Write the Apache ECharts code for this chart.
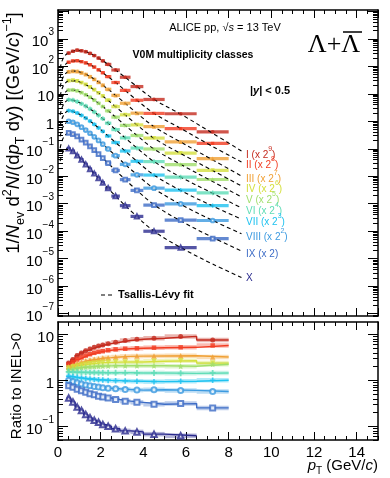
<!DOCTYPE html>
<html>
<head>
<meta charset="utf-8">
<script src="https://cdn.jsdelivr.net/npm/echarts@6.0.0/dist/echarts.min.js"></script>
<style>
html, body { margin: 0; padding: 0; background: #fff; }
#main { width: 390px; height: 478px; }
</style>
</head>
<body>
<div id="main"></div>
<script>
// pT binning (GeV/c)
var pTEdges = [0.4, 0.6, 0.8, 1.0, 1.2, 1.4, 1.6, 1.8, 2.0, 2.2, 2.5, 2.9, 3.4, 4.0, 5.0, 6.5, 8.0];
var pTCenters = [0.5, 0.7, 0.9, 1.1, 1.3, 1.5, 1.7, 1.9, 2.1, 2.35, 2.7, 3.15, 3.7, 4.5, 5.75, 7.25];

var classNames = ['I', 'II', 'III', 'IV', 'V', 'VI', 'VII', 'VIII', 'IX', 'X'];
var classPow2 = [9, 8, 7, 6, 5, 4, 3, 2, 1, 0];
var classColors = ['#c42a1e', '#f23c22', '#f0a035', '#d4e03e', '#a0df6c', '#5edcb6', '#1ec2f0', '#3c9ae0', '#3d6cc6', '#2a2a8e'];

// 1/Nev d2N/(dpT dy), not scaled
var specI = [0.583, 0.677, 0.742, 0.706, 0.651, 0.566, 0.473, 0.383, 0.304, 0.225, 0.141, 0.0767, 0.0351, 0.0119, 0.0036, 0.000788];
var specII = [0.539, 0.600, 0.613, 0.567, 0.511, 0.437, 0.359, 0.286, 0.224, 0.162, 0.0987, 0.0509, 0.0223, 0.0074, 0.00208, 0.000599];
var specIII = [0.490, 0.516, 0.505, 0.450, 0.392, 0.325, 0.259, 0.204, 0.159, 0.112, 0.0672, 0.0347, 0.0151, 0.00489, 0.00137, 0.000336];
var specIV = [0.453, 0.468, 0.441, 0.387, 0.329, 0.269, 0.212, 0.164, 0.126, 0.0882, 0.0521, 0.0263, 0.0113, 0.00374, 0.00106, 0.000248];
var specV = [0.421, 0.427, 0.396, 0.340, 0.286, 0.231, 0.181, 0.139, 0.106, 0.0738, 0.0433, 0.0217, 0.00932, 0.0030, 0.000808, 0.000233];
var specVI = [0.372, 0.360, 0.320, 0.266, 0.219, 0.173, 0.134, 0.101, 0.0759, 0.0522, 0.0305, 0.0152, 0.00648, 0.00209, 0.000564, 0.000151];
var specVII = [0.299, 0.283, 0.245, 0.200, 0.160, 0.125, 0.0946, 0.0704, 0.0525, 0.0356, 0.0206, 0.0101, 0.00428, 0.00135, 0.00038, 0.000105];
var specVIII = [0.245, 0.226, 0.189, 0.149, 0.117, 0.0897, 0.0664, 0.049, 0.0359, 0.0241, 0.0137, 0.00662, 0.00275, 0.0009, 0.00024, 0.0000599];
var specIX = [0.186, 0.168, 0.138, 0.106, 0.0814, 0.0602, 0.0437, 0.0311, 0.0224, 0.0148, 0.00798, 0.00368, 0.00149, 0.000435, 0.000124, 0.0000263];
var specX = [0.100, 0.0804, 0.0559, 0.0396, 0.0266, 0.0179, 0.0123, 0.00842, 0.00567, 0.0036, 0.00185, 0.00083, 0.000338, 0.0000972, 0.0000248];

// ratio to INEL>0
var ratI = [2.38, 2.82, 3.45, 3.92, 4.40, 4.80, 5.20, 5.55, 5.85, 6.25, 6.70, 7.30, 7.80, 8.20, 9.00, 7.50];
var ratII = [2.20, 2.50, 2.85, 3.15, 3.45, 3.70, 3.95, 4.15, 4.30, 4.50, 4.70, 4.85, 4.95, 5.10, 5.20, 5.70];
var ratIII = [2.00, 2.15, 2.35, 2.50, 2.65, 2.75, 2.85, 2.95, 3.05, 3.10, 3.20, 3.30, 3.35, 3.37, 3.42, 3.20];
var ratIV = [1.85, 1.95, 2.05, 2.15, 2.22, 2.28, 2.33, 2.38, 2.42, 2.45, 2.48, 2.50, 2.50, 2.58, 2.66, 2.36];
var ratV = [1.72, 1.78, 1.84, 1.89, 1.93, 1.96, 1.99, 2.01, 2.03, 2.05, 2.06, 2.07, 2.07, 2.07, 2.02, 2.22];
var ratVI = [1.52, 1.50, 1.49, 1.48, 1.48, 1.47, 1.47, 1.46, 1.46, 1.45, 1.45, 1.45, 1.44, 1.44, 1.41, 1.44];
var ratVII = [1.22, 1.18, 1.14, 1.11, 1.08, 1.06, 1.04, 1.02, 1.01, 0.99, 0.98, 0.96, 0.95, 0.93, 0.95, 1.00];
var ratVIII = [1.00, 0.94, 0.88, 0.83, 0.79, 0.76, 0.73, 0.71, 0.69, 0.67, 0.65, 0.63, 0.61, 0.62, 0.60, 0.57];
var ratIX = [0.76, 0.70, 0.64, 0.59, 0.55, 0.51, 0.48, 0.45, 0.43, 0.41, 0.38, 0.35, 0.33, 0.30, 0.31, 0.25];
var ratX = [0.41, 0.335, 0.26, 0.22, 0.18, 0.152, 0.135, 0.122, 0.109, 0.10, 0.088, 0.079, 0.075, 0.067, 0.062];

// Tsallis-Levy fit curves
var fitPt = [0.1, 0.2, 0.35, 0.5, 0.8, 1.1, 1.5, 2.0, 2.7, 3.5, 4.5, 5.75, 7.25, 8.6];
var fitI = [0.163, 0.315, 0.49, 0.583, 0.715, 0.706, 0.566, 0.342, 0.141, 0.0465, 0.012, 0.00348, 0.0007, 0.000159];
var fitII = [0.151, 0.291, 0.453, 0.539, 0.606, 0.567, 0.437, 0.252, 0.0987, 0.030, 0.0074, 0.00212, 0.00046, 0.000126];
var fitIII = [0.137, 0.265, 0.412, 0.49, 0.511, 0.45, 0.325, 0.18, 0.0672, 0.0204, 0.00489, 0.00135, 0.0003, 0.000078];
var fitIV = [0.127, 0.245, 0.381, 0.453, 0.454, 0.387, 0.269, 0.144, 0.0521, 0.0153, 0.0037, 0.00103, 0.000246, 0.0000676];
var fitV = [0.118, 0.227, 0.354, 0.421, 0.411, 0.34, 0.231, 0.121, 0.0433, 0.0127, 0.0030, 0.000828, 0.000197, 0.0000538];
var fitVI = [0.104, 0.201, 0.312, 0.372, 0.339, 0.266, 0.173, 0.0876, 0.0305, 0.00884, 0.00209, 0.000572, 0.000146, 0.0000428];
var fitVII = [0.0837, 0.161, 0.251, 0.299, 0.263, 0.2, 0.125, 0.0609, 0.0206, 0.00584, 0.00136, 0.000372, 0.0001, 0.0000335];
var fitVIII = [0.0686, 0.132, 0.206, 0.245, 0.207, 0.149, 0.0897, 0.042, 0.0137, 0.00379, 0.00087, 0.000232, 0.00006, 0.0000198];
var fitIX = [0.052, 0.1, 0.156, 0.186, 0.152, 0.106, 0.0602, 0.0264, 0.00798, 0.00208, 0.00045, 0.000116, 0.000029, 0.00000936];
var fitX = [0.035, 0.066, 0.095, 0.1, 0.0681, 0.0396, 0.0179, 0.0069, 0.00185, 0.000465, 0.0000972, 0.0000248, 0.0000062, 0.00000202];

// axis decades that get a label
var topDecades = [-7, -6, -5, -4, -3, -2, -1, 0, 1, 2, 3];
var ratioDecades = [-1, 0, 1];

var spectra = [specI, specII, specIII, specIV, specV, specVI, specVII, specVIII, specIX, specX];
var ratios = [ratI, ratII, ratIII, ratIV, ratV, ratVI, ratVII, ratVIII, ratIX, ratX];
var fits = [fitI, fitII, fitIII, fitIV, fitV, fitVI, fitVII, fitVIII, fitIX, fitX];

/****************************************************
 *                 layout / styles                  *
 ****************************************************/
var FONT = '"Liberation Sans", Arial, Helvetica, sans-serif';
var TOP_MIN = 8e-8, TOP_MAX = 1.1e4;
var RAT_MIN = 0.05, RAT_MAX = 18.5;
var labelY = [153, 163, 177, 187, 198, 209, 220, 235, 252, 276];

var STAR = 'path://M0,-10L2.9,-4L9.5,-3.1L4.7,1.5L5.9,8.1L0,5L-5.9,8.1L-4.7,1.5L-9.5,-3.1L-2.9,-4Z';
var CROSS = 'path://M-3,-10H3V-3H10V3H3V10H-3V3H-10V-3H-3Z';
var markers = [
    {symbol: 'circle', size: 5},
    {symbol: 'rect', size: 4.5},
    {symbol: 'triangle', size: 5.5},
    {symbol: 'triangle', size: 5.5, rotate: 180},
    {symbol: STAR, size: 6},
    {symbol: CROSS, size: 6},
    {symbol: CROSS, size: 5.5},
    {symbol: 'emptyCircle', size: 5},
    {symbol: 'emptyRect', size: 5},
    {symbol: 'emptyTriangle', size: 5.5}
];

function supLabel(n) {
    if (n === 0) return '{b|1}';
    if (n === 1) return '{b|10}';
    return '{b|10}{s|' + (n < 0 ? '\u2212' + (-n) : n) + '}';
}

// log axis ticks (2..9 x 10^n) on both sides + decade labels
function logAxisItem(decades, min, max) {
    return function (params, api) {
        var els = [];
        var n0 = Math.floor(Math.log10(min)), n1 = Math.ceil(Math.log10(max));
        for (var n = n0; n <= n1; n++) {
            for (var k = 1; k < 10; k++) {
                var v = k * Math.pow(10, n);
                if (v < min || v > max) continue;
                var pl = api.coord([0, v]), pr = api.coord([15, v]);
                var len = k === 1 ? 10 : 5;
                var y = Math.round(pl[1]) + 0.5;
                els.push({type: 'line', shape: {x1: pl[0], y1: y, x2: pl[0] + len, y2: y}, style: {stroke: '#000', lineWidth: 1}});
                els.push({type: 'line', shape: {x1: pr[0], y1: y, x2: pr[0] - len, y2: y}, style: {stroke: '#000', lineWidth: 1}});
            }
        }
        decades.forEach(function (n) {
            var p = api.coord([0, Math.pow(10, n)]);
            els.push({
                type: 'text', x: p[0] - 4, y: p[1],
                style: {
                    text: supLabel(n), align: 'right', verticalAlign: 'middle', fill: '#000',
                    rich: {
                        b: {fontSize: 15, fontFamily: FONT, lineHeight: 22, verticalAlign: 'bottom'},
                        s: {fontSize: 10, fontFamily: FONT, lineHeight: 11, verticalAlign: 'top'}
                    }
                }
            });
        });
        return {type: 'group', children: els};
    };
}

// systematic boxes spanning the bin width
function boxItem(h, color, op) {
    return function (params, api) {
        var a = api.coord([api.value(0), api.value(2)]);
        var b = api.coord([api.value(1), api.value(2)]);
        return {
            type: 'rect',
            shape: {x: a[0], y: a[1] - h / 2, width: b[0] - a[0], height: h},
            style: {fill: color, opacity: op}
        };
    };
}

function xAxisPair(grid, pos, labels) {
    return [{
        gridIndex: grid, type: 'value', min: 0, max: 15, interval: 2, position: pos,
        axisLine: {show: true, onZero: false, lineStyle: {color: '#000', width: 1.5}},
        axisTick: {show: true, inside: true, length: 8, lineStyle: {color: '#000', width: 1}},
        axisLabel: {show: labels, color: '#000', fontSize: 15, fontFamily: FONT, margin: 5, showMaxLabel: false},
        splitLine: {show: false}
    }, {
        gridIndex: grid, type: 'value', min: 0, max: 15, interval: 0.5, position: pos,
        axisLine: {show: false},
        axisTick: {show: true, inside: true, length: 4, lineStyle: {color: '#000', width: 1}},
        axisLabel: {show: false},
        splitLine: {show: false}
    }];
}

function yAxisLog(grid, pos, min, max) {
    return {
        gridIndex: grid, type: 'log', min: min, max: max, position: pos,
        axisLine: {show: true, onZero: false, lineStyle: {color: '#000', width: 1.5}},
        axisTick: {show: false}, axisLabel: {show: false}, splitLine: {show: false}
    };
}

var xAxes = [].concat(xAxisPair(0, 'bottom', false), xAxisPair(0, 'top', false),
    xAxisPair(1, 'bottom', true), xAxisPair(1, 'top', false));
var yAxes = [yAxisLog(0, 'left', TOP_MIN, TOP_MAX), yAxisLog(0, 'right', TOP_MIN, TOP_MAX),
    yAxisLog(1, 'left', RAT_MIN, RAT_MAX), yAxisLog(1, 'right', RAT_MIN, RAT_MAX)];

var series = [];
classNames.forEach(function (name, c) {
    var f = Math.pow(2, classPow2[c]);
    var col = classColors[c];
    var spec = spectra[c], rat = ratios[c], fit = fits[c], mk = markers[c];

    series.push({
        type: 'custom', xAxisIndex: 0, yAxisIndex: 0, silent: true, z: 3,
        renderItem: boxItem(3.2, col, 0.8), encode: {x: [0, 1], y: 2},
        data: spec.map(function (v, i) { return [pTEdges[i], pTEdges[i + 1], v * f]; })
    });
    series.push({
        type: 'line', xAxisIndex: 0, yAxisIndex: 0, silent: true, z: 4, smooth: 0.35,
        showSymbol: false, lineStyle: {color: '#000', width: 1.1, type: [4, 3]},
        data: fitPt.map(function (p, i) { return [p, fit[i] * f]; })
    });
    series.push({
        type: 'scatter', xAxisIndex: 0, yAxisIndex: 0, silent: true, z: 5,
        symbol: mk.symbol, symbolSize: mk.size - 1.3, symbolRotate: mk.rotate || 0,
        itemStyle: {color: col, borderWidth: 0.8},
        data: spec.map(function (v, i) { return [pTCenters[i], v * f]; })
    });

    // ratio panel
    var step = [];
    rat.forEach(function (v, i) { step.push([pTEdges[i], v], [pTEdges[i + 1], v]); });
    series.push({
        type: 'custom', xAxisIndex: 4, yAxisIndex: 2, silent: true, z: 3,
        renderItem: boxItem(4.5, col, 0.35), encode: {x: [0, 1], y: 2},
        data: rat.map(function (v, i) { return [pTEdges[i], pTEdges[i + 1], v]; })
    });
    series.push({
        type: 'line', xAxisIndex: 4, yAxisIndex: 2, silent: true, z: 4,
        showSymbol: false, lineStyle: {color: col, width: 1.4}, data: step
    });
    series.push({
        type: 'scatter', xAxisIndex: 4, yAxisIndex: 2, silent: true, z: 5,
        symbol: mk.symbol, symbolSize: mk.size, symbolRotate: mk.rotate || 0,
        itemStyle: {color: col, borderWidth: 1.1},
        data: rat.map(function (v, i) { return [pTCenters[i], v]; })
    });
});

series.push({
    type: 'custom', xAxisIndex: 0, yAxisIndex: 0, silent: true, clip: false, z: 10,
    renderItem: logAxisItem(topDecades, TOP_MIN, TOP_MAX), encode: {x: 0, y: 1}, data: [[1, 1]]
});
series.push({
    type: 'custom', xAxisIndex: 4, yAxisIndex: 2, silent: true, clip: false, z: 10,
    renderItem: logAxisItem(ratioDecades, RAT_MIN, RAT_MAX), encode: {x: 0, y: 1}, data: [[1, 1]]
});

/****************************************************
 *                    texts                         *
 ****************************************************/
var graphics = [];
var titleRich = {
    a: {fontSize: 18.5, fontFamily: FONT, lineHeight: 26, verticalAlign: 'middle'},
    i: {fontSize: 18.5, fontFamily: FONT, fontStyle: 'italic', lineHeight: 26, verticalAlign: 'middle'},
    sub: {fontSize: 12.5, fontFamily: FONT, lineHeight: 14, verticalAlign: 'bottom'},
    sup: {fontSize: 12.5, fontFamily: FONT, lineHeight: 12, verticalAlign: 'top'}
};
graphics.push({
    type: 'text', x: 14, y: 133, rotation: Math.PI / 2,
    style: {
        text: '{a|1/}{i|N}{sub|ev}{a| d}{sup|2}{i|N}{a|/(d}{i|p}{sub|T}{a| dy) [(GeV/}{i|c}{a|)}{sup|\u22121}{a|]}',
        align: 'center', verticalAlign: 'middle', fill: '#000', rich: titleRich
    }
});
graphics.push({
    type: 'text', x: 17, y: 386, rotation: Math.PI / 2,
    style: {text: 'Ratio to INEL>0', font: '15px ' + FONT, align: 'center', verticalAlign: 'middle', fill: '#000'}
});
graphics.push({
    type: 'text', x: 378, y: 466,
    style: {
        text: '{i|p}{sub|T}{a| (GeV/}{i|c}{a|)}', align: 'right', verticalAlign: 'middle', fill: '#000',
        rich: {
            a: {fontSize: 15, fontFamily: FONT, lineHeight: 20},
            i: {fontSize: 15, fontFamily: FONT, fontStyle: 'italic', lineHeight: 20},
            sub: {fontSize: 10, fontFamily: FONT, lineHeight: 10, verticalAlign: 'bottom'}
        }
    }
});
graphics.push({
    type: 'text', x: 225, y: 28,
    style: {
        text: '{a|ALICE pp, \u221A}{i|s}{a| = 13 TeV}', align: 'center', verticalAlign: 'middle', fill: '#000',
        rich: {
            a: {fontSize: 11, fontFamily: FONT},
            i: {fontSize: 11, fontFamily: FONT, fontStyle: 'italic'}
        }
    }
});
graphics.push({
    type: 'text', x: 334, y: 45,
    style: {text: '\u039B+\u039B', font: '26px "Liberation Serif", "Times New Roman", serif', align: 'center', verticalAlign: 'middle', fill: '#000'}
});
graphics.push({type: 'line', shape: {x1: 343, y1: 32, x2: 362, y2: 32}, style: {stroke: '#000', lineWidth: 1.5}});
graphics.push({
    type: 'text', x: 193, y: 55,
    style: {text: 'V0M multiplicity classes', font: 'bold 10.5px ' + FONT, align: 'center', verticalAlign: 'middle', fill: '#000'}
});
graphics.push({
    type: 'text', x: 250, y: 91,
    style: {
        text: '{a||}{i|y}{a|| < 0.5}', align: 'left', verticalAlign: 'middle', fill: '#000',
        rich: {
            a: {fontSize: 11, fontFamily: FONT, fontWeight: 'bold'},
            i: {fontSize: 11, fontFamily: FONT, fontWeight: 'bold', fontStyle: 'italic'}
        }
    }
});
classNames.forEach(function (name, c) {
    var p = classPow2[c];
    var txt = p === 0 ? '{a|' + name + '}' :
        (p === 1 ? '{a|' + name + ' (x 2)}' : '{a|' + name + ' (x 2}{s|' + p + '}{a|)}');
    graphics.push({
        type: 'text', x: 246, y: labelY[c],
        style: {
            text: txt, align: 'left', verticalAlign: 'middle', fill: classColors[c],
            rich: {
                a: {fontSize: 10, fontFamily: FONT, lineHeight: 14, verticalAlign: 'bottom'},
                s: {fontSize: 7, fontFamily: FONT, lineHeight: 8, verticalAlign: 'top'}
            }
        }
    });
});
graphics.push({type: 'line', shape: {x1: 101, y1: 295, x2: 115, y2: 295}, style: {stroke: '#000', lineWidth: 1.2, lineDash: [4, 3]}});
graphics.push({
    type: 'text', x: 118, y: 295,
    style: {text: 'Tsallis-L\u00E9vy fit', font: 'bold 11px ' + FONT, align: 'left', verticalAlign: 'middle', fill: '#000'}
});

var option = {
    animation: false,
    backgroundColor: '#fff',
    grid: [
        {left: 58, top: 10, width: 320, height: 306},
        {left: 58, top: 322, width: 320, height: 118}
    ],
    xAxis: xAxes,
    yAxis: yAxes,
    series: series,
    graphic: graphics
};

var chart = echarts.init(document.getElementById('main'));
chart.setOption(option);
</script>
</body>
</html>
